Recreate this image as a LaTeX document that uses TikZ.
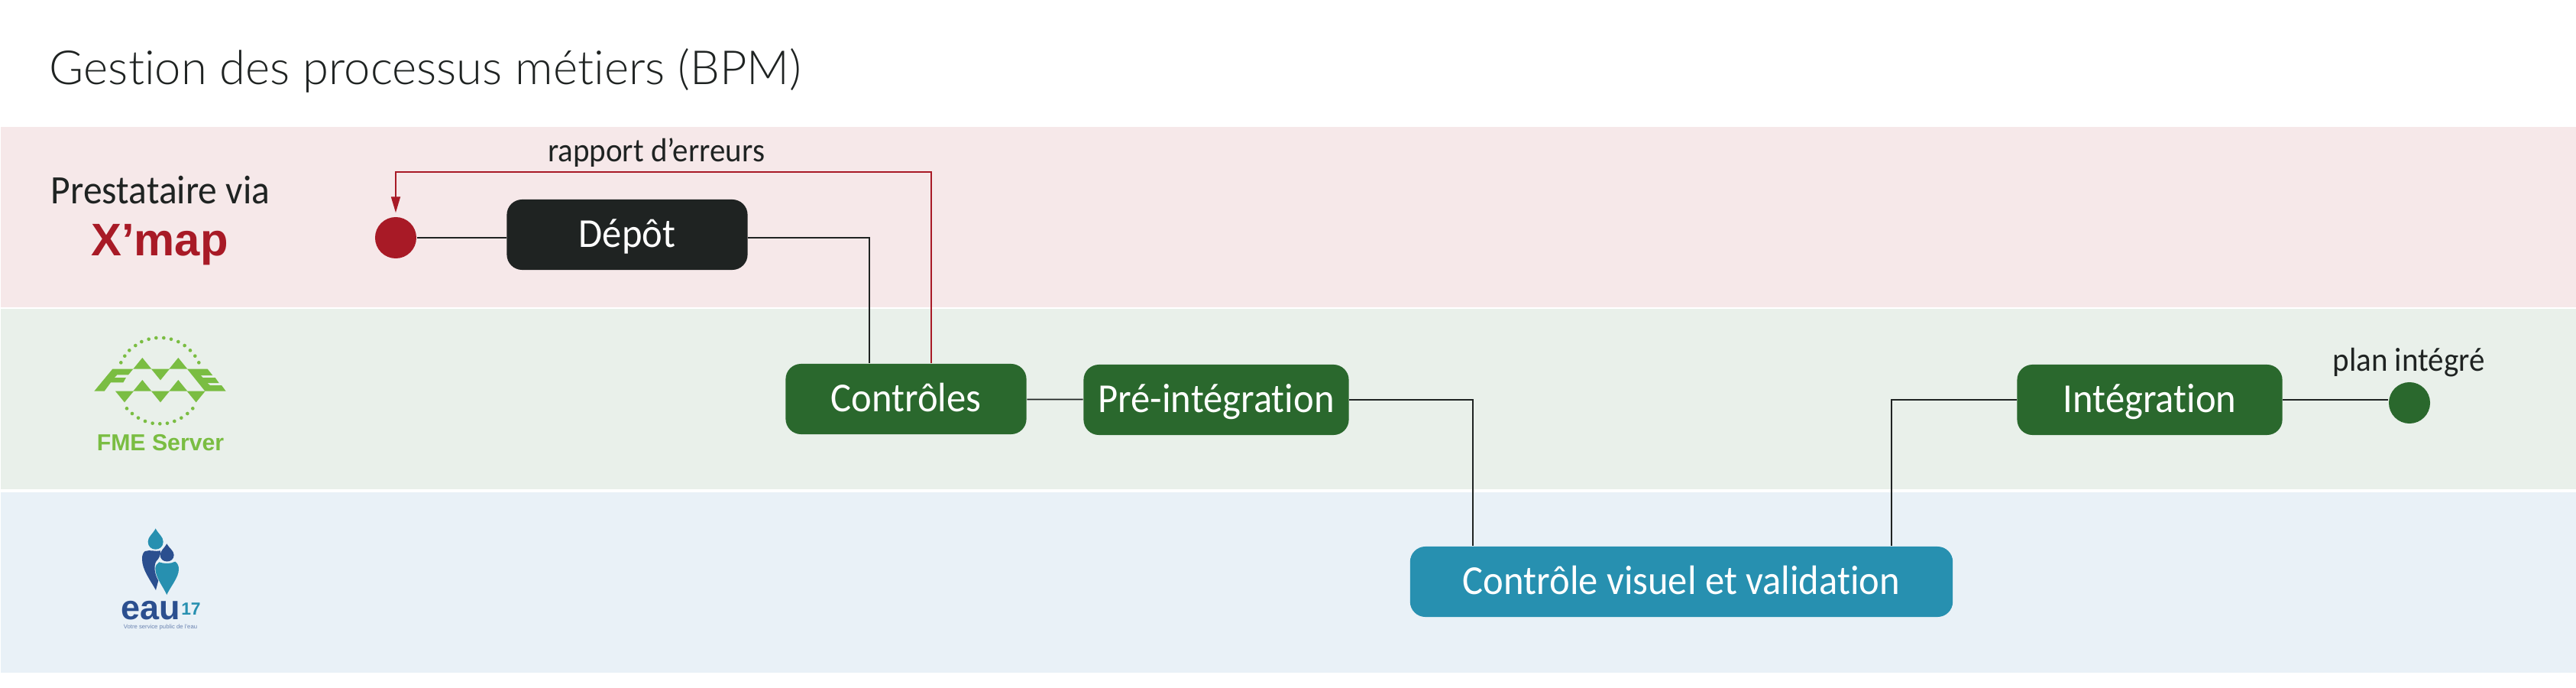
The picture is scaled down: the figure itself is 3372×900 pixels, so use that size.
\documentclass[tikz,border=0pt]{standalone}
\usepackage{fontspec}
\setmainfont{Carlito}[FakeStretch=.94,Ligatures=NoCommon]
\newfontfamily\titlefont{Lato Light}[Ligatures=NoCommon]
\newfontfamily\logofont{Liberation Sans}
\usetikzlibrary{calc,arrows.meta}
\definecolor{rowred}{HTML}{F6E8E9}
\definecolor{rowgreen}{HTML}{E9F0EA}
\definecolor{rowblue}{HTML}{E9F1F7}
\definecolor{xred}{HTML}{A81A26}
\definecolor{boxdark}{HTML}{1F2322}
\definecolor{boxgreen}{HTML}{2A682D}
\definecolor{boxteal}{HTML}{2790B0}
\definecolor{fmegreen}{HTML}{7ABD42}
\definecolor{eaunavy}{HTML}{2B4F8F}
\newcommand{\boxfont}{\fontsize{15.3}{18}\selectfont}
\newcommand{\notefont}{\fontsize{12.4}{14}\selectfont}
\tikzset{
  stepbox/.style={rounded corners=.2cm, minimum width=#1, minimum height=.92cm, inner sep=0pt,
    text=white, font=\boxfont, text height=.32cm, text depth=0cm},
  enddot/.style={circle, inner sep=0pt, minimum size=.54cm},
  flow/.style={line width=.5pt, color=boxdark},
  back/.style={line width=.5pt, color=xred, -{Triangle[length=.21cm,width=.12cm]}, shorten >=.05cm}
}

\begin{document}
\begin{tikzpicture}[x=.01cm,y=-.01cm]
  \useasboundingbox (0,-2) rectangle (3372,898);
  % rows
  \fill[rowred] (1,164) rectangle (3372,400);
  \fill[rowgreen] (1,402) rectangle (3372,638);
  \fill[rowblue] (1,642) rectangle (3372,878);

  \node (title) at (557,90) [font=\titlefont\fontsize{17.5}{20}\selectfont, text=boxdark] {Gestion des processus métiers (BPM)};

  \node (via) at (210,247) [font=\fontsize{15}{18}\selectfont, text=boxdark] {Prestataire via};
  \node (xmap) at (209,318) [font=\logofont\bfseries\fontsize{17}{20}\selectfont, text=xred] {X’map};

  % FME logo
  \begin{scope}[shift={(90,420)},scale=1/3]
    \fill[fmegreen] (100,269) -- (172,182) -- (253,182) -- (234,205) -- (190,205) -- (180,216) -- (225,216) -- (214,235) -- (165,235) -- (140,269) -- cycle;
    \fill[fmegreen] (465,182) -- (545,182) -- (565,207) -- (518,207) -- (527,216) -- (575,216) -- (590,237) -- (544,237) -- (555,246) -- (600,246) -- (617,269) -- (535,269) -- cycle;
    \foreach \x/\t/\b in {289/138/182,430/138/182,289/225/269,430/225/269}
    {
      \fill[fmegreen] (\x-36,\b) -- (\x,\t) -- (\x+36,\b) -- cycle;
    }
    \foreach \x/\t/\b in {360/182/226,219/269/313,360/269/313,500/269/313}
    {
      \fill[fmegreen] (\x-36,\t) -- (\x,\b) -- (\x+36,\t) -- cycle;
    }
    \foreach \x/\y in {205/157,220/131,238/109,262/90,286/75,314/65,343/60,373/60,402/65,430/75,455/90,477/109,496/131,511/157,
      228/337,249/357,273/374,300/387,329/395,358/397,387/395,415/387,442/374,466/357,487/337}
    {
      \fill[fmegreen] (\x,\y) circle (.07cm);
    }
  \end{scope}
  \node (fme) at (210,577) [font=\logofont\bfseries\fontsize{8.6}{10}\selectfont, text=fmegreen] {FME Server};

  % eau17 logo
  \begin{scope}[shift={(110,670)},scale=1/3]
    \fill[boxteal] (281,58) .. controls (270,80) and (251,90) .. (251,110) .. controls (251,150) and (311,150) .. (311,110) .. controls (311,90) and (292,80) .. (281,58) -- cycle;
    \fill[eaunavy] (240,147) .. controls (260,140) and (280,150) .. (300,145) .. controls (302,165) and (292,178) .. (284,186) .. controls (272,205) and (278,240) .. (292,262) -- (282,300) .. controls (260,260) and (228,220) .. (228,178) .. controls (228,162) and (232,152) .. (240,147) -- cycle;
    \fill[eaunavy] (325,118) .. controls (316,135) and (299,145) .. (299,162) .. controls (299,196) and (353,196) .. (353,162) .. controls (353,145) and (334,135) .. (325,118) -- cycle;
    \fill[boxteal] (295,190) .. controls (315,197) and (340,197) .. (358,188) .. controls (368,195) and (372,205) .. (372,218) .. controls (372,250) and (340,285) .. (325,318) .. controls (310,285) and (280,250) .. (280,215) .. controls (280,205) and (286,195) .. (295,190) -- cycle;
  \end{scope}
  \node (eau) at (197,808) [anchor=base, inner sep=0pt, font=\logofont\bfseries\fontsize{12.8}{14}\selectfont, text=eaunavy] {eau};
  \node (dixsept) at (250,802) [anchor=base, inner sep=0pt, font=\logofont\bfseries\fontsize{6.5}{7}\selectfont, text=boxteal] {17};
  \node (devise) at (210,818) [font=\logofont\fontsize{2.2}{3}\selectfont, text=eaunavy!70] {Votre service public de l’eau};

  % steps
  \node (start) at (518,309) [enddot, fill=xred] {};
  \node (depot) at (821,305) [stepbox=3.15cm, fill=boxdark] {Dépôt};
  \node (controles) at (1186,520) [stepbox=3.15cm, fill=boxgreen] {Contrôles};
  \node (preinteg) at (1592,521) [stepbox=3.47cm, fill=boxgreen] {Pré-intégration};
  \node (visuel) at (2201,759) [stepbox=7.1cm, fill=boxteal] {Contrôle visuel et validation};
  \node (integ) at (2814,521) [stepbox=3.47cm, fill=boxgreen] {Intégration};
  \node (fin) at (3154,525) [enddot, fill=boxgreen] {};

  \coordinate (errcorner) at (518,223);
  \coordinate (errfoot) at ($(controles.north west)+(191,0)$);
  \coordinate (depotfoot) at ($(controles.north west)+(110,0)$);
  \coordinate (visuelin) at ($(visuel.north west)+(83,0)$);
  \coordinate (visuelout) at ($(visuel.north west)+(631,0)$);

  \draw[flow] (start) -- (start -| depot.west);
  \draw[flow] (start -| depot.east) -| (depotfoot);
  \draw[back] (errfoot) |- (errcorner) -- (start);
  \draw[flow] (controles) -- (preinteg);
  \draw[flow] (preinteg) -| (visuelin);
  \draw[flow] (visuelout) |- (integ);
  \draw[flow] (integ) -- (integ -| fin.west);

  \node (erreurs) at (859,209) [anchor=base, font=\notefont, text=boxdark] {rapport d’erreurs};
  \node (plan) at (3153,483) [anchor=base, font=\notefont, text=boxdark] {plan intégré};
\end{tikzpicture}
\end{document}
